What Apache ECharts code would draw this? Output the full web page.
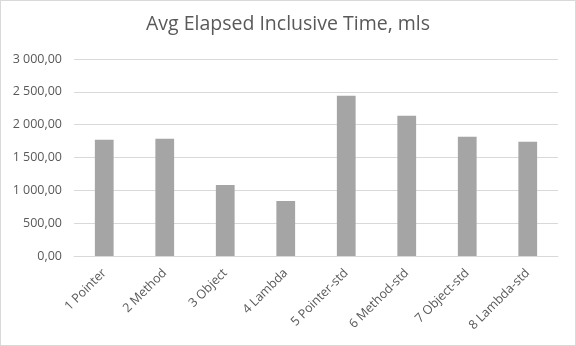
<!DOCTYPE html>
<html>
<head>
<meta charset="utf-8">
<script src="https://cdn.jsdelivr.net/npm/echarts@6/dist/echarts.min.js"></script>
<style>
html,body{margin:0;padding:0;background:#fff;}
#c{width:576px;height:346px;box-sizing:border-box;border:1px solid #d9d9d9;}
</style>
</head>
<body>
<div id="c"></div>
<script>
const categories = ["1 Pointer","2 Method","3 Object","4 Lambda","5 Pointer-std","6 Method-std","7 Object-std","8 Lambda-std"];
const values = [1769, 1784, 1083, 839, 2440, 2135, 1815, 1739];
const titleText = "Avg Elapsed Inclusive Time, mls";

const chart = echarts.init(document.getElementById('c'), null, {renderer:'canvas'});
const fmt = v => {
  const s = v.toFixed(2).split('.');
  const intPart = s[0].replace(/\B(?=(\d{3})+(?!\d))/g, ' ');
  return intPart + ',' + s[1];
};
chart.setOption({
  animation:false,
  textStyle:{fontFamily:'Open Sans'},
  title:{
    text:titleText, left:'center', top:8,
    textStyle:{fontFamily:'Open Sans', fontSize:19.5, fontWeight:'normal', color:'#595959'}
  },
  grid:{left:73, right:17, top:58, bottom:89, containLabel:false},
  xAxis:{
    type:'category', data:categories,
    axisLine:{lineStyle:{color:'#d9d9d9'}},
    axisTick:{show:false},
    axisLabel:{rotate:45, interval:0, color:'#595959', fontSize:12.5, fontFamily:'Open Sans', margin:15}
  },
  yAxis:{
    type:'value', min:0, max:3000, interval:500,
    axisLine:{show:false}, axisTick:{show:false},
    splitLine:{lineStyle:{color:'#d9d9d9'}},
    axisLabel:{color:'#595959', fontSize:12.5, fontFamily:'Open Sans', margin:12, formatter:fmt}
  },
  series:[{
    type:'bar', data:values, barWidth:'31%',
    itemStyle:{color:'#a5a5a5'}
  }]
});
</script>
</body>
</html>
